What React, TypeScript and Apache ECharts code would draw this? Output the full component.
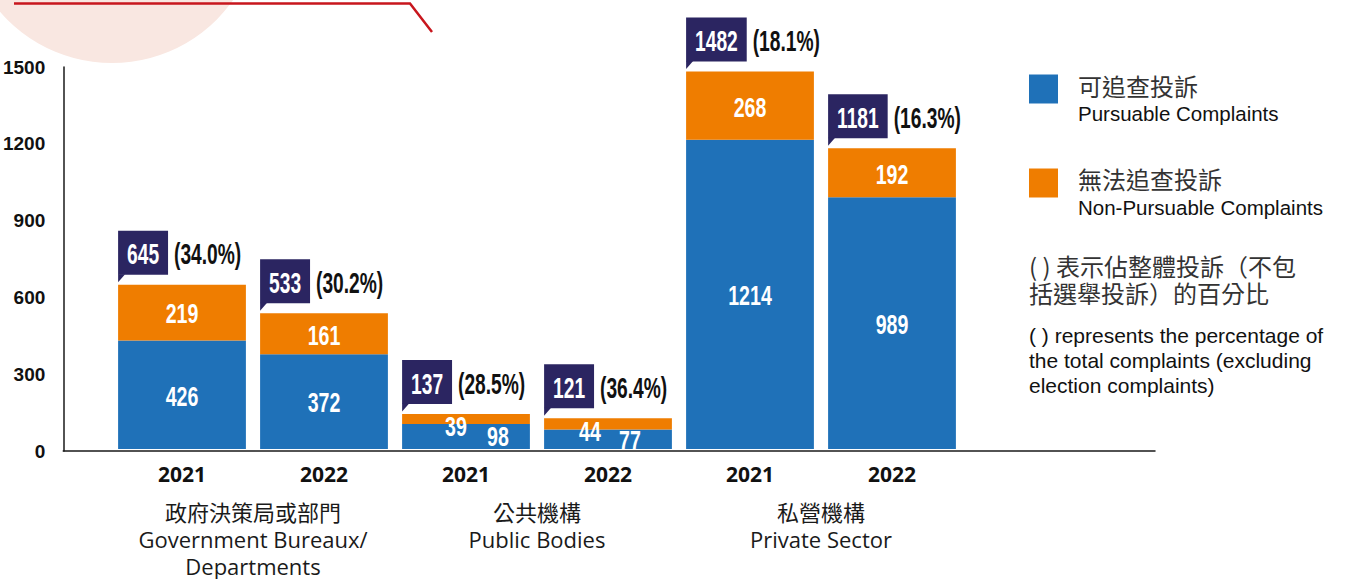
import React, { useEffect, useRef } from "react";
import * as echarts from "echarts";

const years = ["2021", "2022", "2021", "2022", "2021", "2022"];
const groups = [
  "政府決策局或部門\nGovernment Bureaux/\nDepartments",
  "公共機構\nPublic Bodies",
  "私營機構\nPrivate Sector",
];
const pursuable = [426, 372, 98, 77, 1214, 989];
const nonPursuable = [219, 161, 39, 44, 268, 192];
const totals = [645, 533, 137, 121, 1482, 1181];
const percents = ["34.0%", "30.2%", "28.5%", "36.4%", "18.1%", "16.3%"];
const seriesNames = ["可追查投訴", "無法追查投訴"];
const seriesNamesEn = ["Pursuable Complaints", "Non-Pursuable Complaints"];
const noteCn = ["( ) 表示佔整體投訴（不包", "括選舉投訴）的百分比"];
const noteEn = [
  "( ) represents the percentage of",
  "the total complaints (excluding",
  "election complaints)",
];
const yMin = 0;
const yMax = 1500;
const yInterval = 300;

const BLUE = "#1f71b8";
const ORANGE = "#ef7d00";
const NAVY = "#2b2561";
const NUM = "'Liberation Sans', Arial, sans-serif";
const SANS = "'Liberation Sans', Arial, sans-serif";
const CJK = "'Noto Sans CJK TC', 'Noto Sans CJK SC', sans-serif";
const OPEN = "'Open Sans', 'Noto Sans CJK TC', sans-serif";
const SQUEEZE = 0.64;
const BOX_FONT = 30;

const pursOffsets: Record<number, number[]> = { 2: [32, -1], 3: [22, 0] };
const nonOffsets: Record<number, number[]> = { 2: [-10, 6], 3: [-18, 6] };

let measureCtx: CanvasRenderingContext2D | null = null;
function textWidth(text: string, font: string) {
  if (!measureCtx) measureCtx = document.createElement("canvas").getContext("2d");
  if (!measureCtx) return text.length * 16;
  measureCtx.font = font;
  return measureCtx.measureText(text).width;
}

function segLabelSeries(name: string, values: number[], bases: number[], offsets: Record<number, number[]>) {
  return {
    name,
    type: "custom",
    xAxisIndex: 0,
    yAxisIndex: 0,
    z: 5,
    data: values.map((v, i) => [i, bases[i], bases[i] + v, v]),
    renderItem: (params: any, api: any) => {
      const i = params.dataIndex;
      const mid = api.coord([api.value(0), (api.value(1) + api.value(2)) / 2]);
      const off = offsets[i] || [0, 0];
      return {
        type: "text",
        x: mid[0] + off[0],
        y: mid[1] + off[1] + 1,
        scaleX: 0.7,
        style: {
          text: String(values[i]),
          fill: "#fff",
          fontSize: 28,
          fontWeight: "bold",
          fontFamily: NUM,
          align: "center",
          verticalAlign: "middle",
        },
      };
    },
  };
}

export default function App() {
  const ref = useRef<HTMLDivElement>(null);
  useEffect(() => {
    if (!ref.current) return;
    const chart = echarts.init(ref.current, null, { renderer: "svg" });
    const zeros = pursuable.map(() => 0);
    const option: any = {
      animation: false,
      backgroundColor: "#fff",
      grid: [
        { left: 111, right: 382, top: 67, bottom: 128 },
        { left: 63, right: 190, top: 67, bottom: 128 },
      ],
      legend: {
        data: seriesNames,
        orient: "vertical",
        left: 1029,
        top: 73,
        padding: 0,
        itemWidth: 29,
        itemHeight: 29,
        itemGap: 61,
        icon: "rect",
        selectedMode: false,
        formatter: (name: string) => `{cn|${name}}\n{gap| }`,
        textStyle: {
          rich: {
            cn: {
              fontSize: 24,
              color: "#333",
              fontFamily: CJK,
              lineHeight: 30,
              padding: [0, 0, 0, 15],
            },
            gap: { fontSize: 4, lineHeight: 8 },
          },
        },
      },
      xAxis: [
        {
          type: "category",
          gridIndex: 0,
          data: years,
          position: "bottom",
          axisLine: { show: false },
          axisTick: { show: false },
          axisLabel: {
            interval: 0,
            margin: 13,
            fontSize: 21,
            fontWeight: "bold",
            color: "#111",
            fontFamily: OPEN,
            lineHeight: 24,
          },
        },
        {
          type: "category",
          gridIndex: 0,
          data: groups,
          position: "bottom",
          axisLine: { show: false },
          axisTick: { show: false },
          axisLabel: {
            interval: 0,
            margin: 49,
            fontSize: 22,
            color: "#1a1a1a",
            fontFamily: OPEN,
            lineHeight: 27,
          },
        },
        {
          type: "value",
          gridIndex: 1,
          min: 0,
          max: 1,
          axisLine: { show: true, lineStyle: { color: "#1a1a1a", width: 1.5 } },
          axisTick: { show: false },
          axisLabel: { show: false },
          splitLine: { show: false },
        },
      ],
      yAxis: [
        {
          type: "value",
          gridIndex: 0,
          min: yMin,
          max: yMax,
          interval: yInterval,
          show: false,
        },
        {
          type: "value",
          gridIndex: 1,
          min: yMin,
          max: yMax,
          interval: yInterval,
          axisLine: { show: true, lineStyle: { color: "#1a1a1a", width: 1.5 } },
          axisTick: { show: false },
          splitLine: { show: false },
          axisLabel: {
            margin: 18,
            fontSize: 19,
            fontWeight: "bold",
            color: "#111",
            fontFamily: NUM,
            formatter: (v: number) => String(v),
          },
        },
      ],
      series: [
        {
          name: seriesNames[0],
          type: "bar",
          stack: "total",
          xAxisIndex: 0,
          yAxisIndex: 0,
          barWidth: "90%",
          itemStyle: { color: BLUE },
          data: pursuable,
        },
        {
          name: seriesNames[1],
          type: "bar",
          stack: "total",
          xAxisIndex: 0,
          yAxisIndex: 0,
          barWidth: "90%",
          itemStyle: { color: ORANGE },
          data: nonPursuable,
        },
        segLabelSeries("pursuableLabels", pursuable, zeros, pursOffsets),
        segLabelSeries("nonPursuableLabels", nonPursuable, pursuable, nonOffsets),
        {
          name: "totals",
          type: "custom",
          xAxisIndex: 0,
          yAxisIndex: 0,
          z: 5,
          data: totals.map((t, i) => [i, t]),
          renderItem: (params: any, api: any) => {
            const i = params.dataIndex;
            const pt = api.coord([api.value(0), api.value(1)]);
            const bw = api.size([1, 0])[0] * 0.9;
            const left = pt[0] - bw / 2;
            const top = pt[1];
            const label = String(totals[i]);
            const w = textWidth(label, `bold ${BOX_FONT}px ${NUM}`);
            const boxW = (w + 28) * SQUEEZE;
            const boxTop = top - 54;
            const boxH = 44;
            return {
              type: "group",
              children: [
                {
                  type: "rect",
                  shape: { x: left, y: boxTop, width: boxW, height: boxH },
                  style: { fill: NAVY },
                },
                {
                  type: "polygon",
                  shape: {
                    points: [
                      [left, boxTop + boxH - 0.5],
                      [left + 7, boxTop + boxH - 0.5],
                      [left, top - 2.5],
                    ],
                  },
                  style: { fill: NAVY },
                },
                {
                  type: "text",
                  x: left + boxW / 2,
                  y: boxTop + boxH / 2 + 1,
                  scaleX: SQUEEZE,
                  style: {
                    text: label,
                    fill: "#fff",
                    fontSize: BOX_FONT,
                    fontWeight: "bold",
                    fontFamily: NUM,
                    align: "center",
                    verticalAlign: "middle",
                  },
                },
                {
                  type: "text",
                  x: left + boxW + 6,
                  y: boxTop + boxH / 2 + 1,
                  scaleX: SQUEEZE,
                  style: {
                    text: `(${percents[i]})`,
                    fill: "#111",
                    fontSize: BOX_FONT,
                    fontWeight: "bold",
                    fontFamily: NUM,
                    align: "left",
                    verticalAlign: "middle",
                  },
                },
              ],
            };
          },
        },
      ],
      graphic: [
        {
          type: "circle",
          z: -10,
          shape: { cx: 112, cy: -85, r: 148 },
          style: { fill: "#f9e7e1" },
        },
        {
          type: "polyline",
          shape: {
            points: [
              [14, 3.5],
              [410, 3.5],
              [432, 32],
            ],
          },
          style: { stroke: "#c8161d", lineWidth: 2.5, fill: null },
        },
        {
          type: "text",
          x: 1078,
          y: 113,
          style: {
            text: seriesNamesEn[0],
            fill: "#111",
            font: `20.5px ${SANS}`,
            verticalAlign: "middle",
          },
        },
        {
          type: "text",
          x: 1078,
          y: 207,
          style: {
            text: seriesNamesEn[1],
            fill: "#111",
            font: `20.5px ${SANS}`,
            verticalAlign: "middle",
          },
        },
        ...noteCn.map((t, k) => ({
          type: "text",
          x: 1029,
          y: 265 + k * 27,
          style: {
            text: t,
            fill: "#333",
            font: `24px ${CJK}`,
            verticalAlign: "middle",
          },
        })),
        ...noteEn.map((t, k) => ({
          type: "text",
          x: 1029,
          y: 335 + k * 25,
          style: {
            text: t,
            fill: "#111",
            font: `21px ${SANS}`,
            verticalAlign: "middle",
          },
        })),
      ],
    };
    chart.setOption(option);
    return () => chart.dispose();
  }, []);
  return (
    <div
      ref={ref}
      style={{ position: "fixed", left: 0, top: 0, width: 1345, height: 579 }}
    />
  );
}
